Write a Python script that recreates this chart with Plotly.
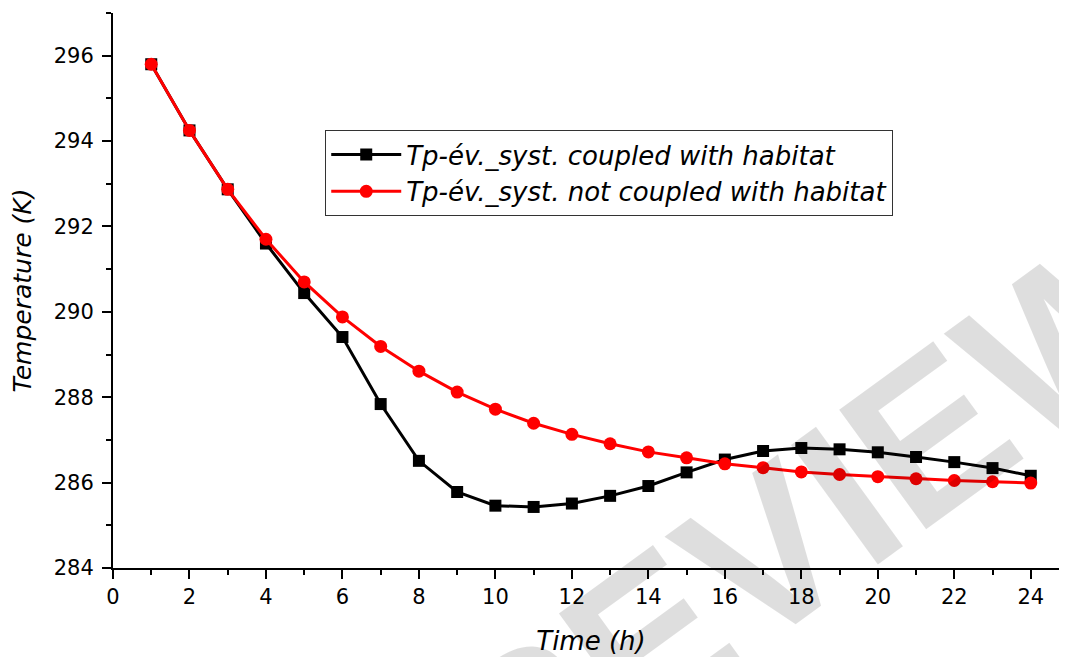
import plotly.graph_objects as go

hours = list(range(1, 25))
coupled = [295.80, 294.25, 292.87, 291.60, 290.44, 289.41, 287.84, 286.51, 285.78, 285.46,
           285.43, 285.51, 285.69, 285.92, 286.24, 286.54, 286.74, 286.81, 286.78, 286.71,
           286.60, 286.48, 286.34, 286.16]
not_coupled = [295.80, 294.25, 292.87, 291.70, 290.70, 289.88, 289.19, 288.61, 288.12, 287.72,
               287.39, 287.13, 286.91, 286.72, 286.58, 286.44, 286.35, 286.25, 286.19, 286.14,
               286.09, 286.05, 286.02, 285.99]
name_coupled = "Tp-év._syst. coupled with habitat"
name_not = "Tp-év._syst. not coupled with habitat"
x_label = "Time (h)"
y_label = "Temperature (K)"
x_ticks = list(range(0, 25, 2))
y_ticks = list(range(284, 297, 2))
watermark = "PREVIEW"

fig = go.Figure()
fig.add_trace(go.Scatter(
    x=hours, y=coupled, name=name_coupled, mode="lines+markers",
    line=dict(color="black", width=3),
    marker=dict(symbol="square", size=12, color="black"),
))
fig.add_trace(go.Scatter(
    x=hours, y=not_coupled, name=name_not, mode="lines+markers",
    line=dict(color="#ff0000", width=3),
    marker=dict(symbol="circle", size=13, color="#ff0000"),
))

axis_common = dict(
    showgrid=False, zeroline=False, showline=True, linecolor="black", linewidth=2,
    ticks="outside", ticklen=9, tickwidth=2, tickcolor="black",
    tickfont=dict(family="DejaVu Sans", size=21, color="black"),
    minor=dict(ticks="outside", ticklen=5, tickwidth=2, tickcolor="black", dtick=1),
)

fig.update_xaxes(
    range=[0, 25], tickmode="array", tickvals=x_ticks, ticktext=[str(v) for v in x_ticks],
    title=dict(text=x_label, font=dict(family="DejaVu Sans", size=26, color="black", style="italic"), standoff=24),
    **axis_common,
)
fig.update_yaxes(
    range=[284, 297], tickmode="array", tickvals=y_ticks, ticktext=[str(v) for v in y_ticks],
    ticklabelstandoff=4,
    title=dict(text=y_label, font=dict(family="DejaVu Sans", size=25, color="black", style="italic"), standoff=20),
    **axis_common,
)

fig.add_annotation(
    text="<b>" + watermark + "</b>", xref="paper", yref="paper", x=0.666, y=0.005,
    xanchor="center", yanchor="middle", showarrow=False, textangle=-36,
    font=dict(family="Liberation Sans Narrow, Liberation Sans", size=215, color="rgba(0,0,0,0.13)"),
)

fig.update_layout(
    width=1067, height=657,
    margin=dict(l=105, r=6, t=5, b=97),
    plot_bgcolor="white", paper_bgcolor="white",
    showlegend=True,
    legend=dict(
        x=0.222, y=0.789, xanchor="left", yanchor="top",
        bgcolor="white", bordercolor="#333333", borderwidth=1,
        font=dict(family="DejaVu Sans", size=26, color="black", style="italic"),
        itemwidth=70, tracegroupgap=0,
    ),
)

fig.write_html("out.html")
